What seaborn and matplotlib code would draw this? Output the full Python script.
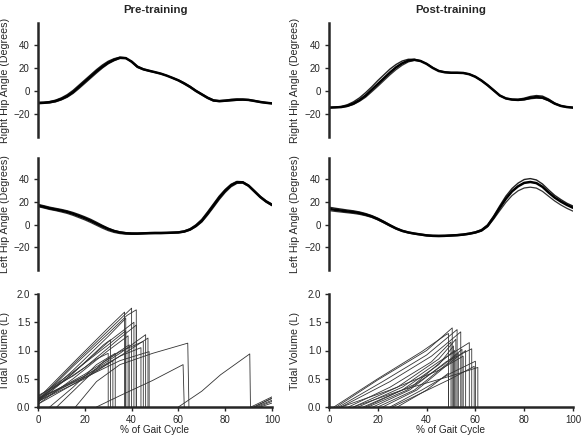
import numpy as np
import pandas as pd
import matplotlib
matplotlib.use("Agg")
import matplotlib.pyplot as plt
import seaborn as sns

# ---------------- data ----------------
gait_x = np.linspace(0, 100, 41)  # % of gait cycle, step 2.5

pre_right = [
    [-10.5,-10.3,-9.8,-8.8,-7,-4.5,-1,3.5,8,12.5,17,21,24.5,27,28.8,28.5,25.5,21,18.8,17.5,16.3,15,13.3,11.3,9.2,6.5,3.5,0,-3,-6,-8.3,-8.8,-8.5,-8,-7.6,-7.5,-7.8,-8.7,-9.6,-10.3,-10.8],
    [-10,-9.8,-9.2,-8,-6,-3.2,0.5,5,9.5,14,18.5,22.5,25.8,28,29.3,28.8,25,20.5,18.5,17.2,16,14.8,13.2,11.5,9.5,7,4,0.5,-2.5,-5.5,-7.8,-8.5,-8,-7.3,-7,-7.2,-7.5,-8.3,-9.3,-10,-10.5],
    [-11,-10.8,-10.4,-9.5,-7.8,-5.5,-2.2,2,6.5,11,15.5,19.8,23.5,26.2,28.2,28.2,25.8,21.5,19.2,17.8,16.5,15.2,13.5,11,8.8,6,3,-0.5,-3.5,-6.5,-8.8,-9.3,-9,-8.5,-8.2,-8,-8.2,-9,-10,-10.7,-11.2],
]
post_right = [
    [-14.5,-14.3,-14,-13,-11,-8,-4,1,6,11,16,20.5,24,26.3,27,26,23.5,20,17.3,16.2,15.8,15.8,15.6,14.5,12.3,9,5,0.5,-4,-6.5,-7.5,-7.8,-7.2,-6,-5.3,-5.8,-8,-11,-13,-14,-14.5],
    [-14.3,-14,-13.5,-12,-9.5,-6,-1.5,3.5,9,14,19,23,26,27.5,27.5,26.2,23.5,20,17.5,16.5,16,16,15.8,14.7,12.5,9.2,5.2,0.8,-3.8,-6.3,-7.2,-7.2,-6.3,-4.8,-4,-4.5,-7,-10.5,-12.8,-13.8,-14.3],
    [-14.5,-14.4,-14.2,-13.4,-11.8,-9,-5.5,-0.8,4,9,14,18.5,22.3,25.2,26.6,26,23.8,20.3,17.3,16,15.5,15.5,15.4,14.3,12,8.7,4.7,0.2,-4.2,-6.8,-7.8,-8.2,-7.8,-6.8,-6.3,-6.5,-8.5,-11.3,-13.3,-14.2,-14.7],
]
pre_left = [
    [17,15.8,14.5,13.5,12.5,11.3,9.7,7.8,5.8,3.5,1,-1.5,-3.8,-5.6,-6.8,-7.5,-7.8,-7.8,-7.6,-7.4,-7.3,-7.3,-7.2,-7,-6.8,-6,-4.2,-1,3.5,10,17,24,30,34.8,37.5,37.5,34.5,29.5,24.5,20.5,17.5],
    [18,16.8,15.5,14.5,13.5,12.3,10.8,9,7,4.8,2.2,-0.5,-3,-5,-6.3,-7,-7.3,-7.4,-7.2,-7,-6.9,-6.9,-6.8,-6.6,-6.3,-5.4,-3.5,0,4.8,11.5,18.5,25.5,31.2,35.8,38.3,38,35,30.2,25.2,21.2,18.3],
    [16,14.8,13.5,12.5,11.3,10,8.3,6.3,4.3,2,-0.5,-3,-5.2,-6.8,-7.8,-8.3,-8.5,-8.4,-8.1,-7.9,-7.8,-7.8,-7.6,-7.4,-7.2,-6.5,-4.8,-1.8,2.3,8.5,15.3,22.3,28.5,33.5,36.5,36.8,34,29,24,20,16.8],
]
post_left = [
    [14,13.2,12.5,11.8,11.2,10.3,9,7.3,5,2.3,-0.6,-3.3,-5.4,-6.8,-7.8,-8.6,-9.4,-9.8,-9.9,-9.8,-9.5,-9.2,-8.7,-7.9,-6.8,-5,-1,6.5,15,23,29.5,34,37,37.8,36.8,33.5,28.5,24,20.5,17.5,15],
    [15.5,14.6,13.8,13,12.3,11.3,9.9,8.1,5.8,3,0,-2.8,-5,-6.5,-7.5,-8.3,-9,-9.4,-9.5,-9.4,-9.1,-8.8,-8.3,-7.5,-6.3,-4.3,0,7.8,16.8,25.3,32,36.8,40,40.8,39.6,36,30.8,26,22.3,19,16.5],
    [12.5,11.8,11.2,10.6,10,9.2,8,6.5,4.3,1.6,-1.2,-3.8,-5.9,-7.3,-8.3,-9.1,-9.9,-10.3,-10.4,-10.3,-10,-9.7,-9.2,-8.4,-7.3,-5.6,-1.8,5,12.5,19.8,25.8,30,32.5,33.2,32.4,29.5,25.2,21,17.5,14.5,12],
]

# tidal volume breaths (x in % gait cycle, volume in L)
pre_tv_x = [
    [0, 15, 30, 37, 37], [0, 15, 30, 40, 40], [0, 15, 30, 38, 42, 42],
    [0, 15, 30, 37.5, 37.5], [0, 15, 30, 41, 41], [0, 20, 35, 42, 42],
    [0, 15, 30, 37.5, 37.5], [0, 15, 30, 38.5, 38.5], [0, 15, 28, 31, 31],
    [0, 20, 35, 46, 46], [0, 20, 35, 47, 47], [0, 20, 35, 45, 45],
    [0, 20, 35, 44, 44], [0, 20, 35, 47.5, 47.5], [0, 15, 28, 32, 32],
    [5, 15, 25, 33, 33], [8, 18, 28, 39, 39], [0, 15, 25, 30, 30],
    [16, 25, 35, 49, 64, 64.5], [25, 35, 49, 62, 62.5], [60, 70, 78, 90.5, 90.8],
    [91, 100], [92, 100], [93, 100], [94, 100], [95, 100], [92.5, 100],
]
pre_tv_v = [
    [0.15, 0.78, 1.4, 1.68, 0], [0.12, 0.75, 1.35, 1.75, 0], [0.10, 0.72, 1.3, 1.62, 1.72, 0],
    [0.10, 0.65, 1.25, 1.57, 0], [0.08, 0.6, 1.15, 1.5, 0], [0.15, 0.7, 1.22, 1.45, 0],
    [0.18, 0.62, 1.1, 1.35, 0], [0.05, 0.5, 1.0, 1.26, 0], [0.12, 0.6, 1.1, 1.19, 0],
    [0.15, 0.55, 0.95, 1.28, 0], [0.10, 0.5, 0.9, 1.22, 0], [0.12, 0.58, 0.98, 1.16, 0],
    [0.10, 0.55, 0.9, 1.05, 0], [0.15, 0.52, 0.82, 0.98, 0], [0.05, 0.4, 0.72, 0.82, 0],
    [0, 0.35, 0.75, 0.95, 0], [0, 0.4, 0.8, 1.1, 0], [0.2, 0.55, 0.85, 0.95, 0],
    [0, 0.45, 0.75, 0.95, 1.13, 0], [0, 0.2, 0.47, 0.75, 0], [0, 0.28, 0.57, 0.94, 0],
    [0, 0.18], [0, 0.15], [0, 0.12], [0, 0.10], [0, 0.07], [0, 0.16],
]
post_tv_x = [
    [2, 20, 38, 48, 49, 49], [3, 20, 40, 50.5, 50.5], [4, 22, 40, 52.5, 52.5],
    [5, 25, 42, 54, 54], [8, 25, 42, 50, 50], [10, 28, 45, 52, 52],
    [12, 30, 45, 57.5, 57.5], [14, 30, 45, 51, 51], [16, 32, 47, 54.5, 54.5],
    [18, 33, 48, 58.5, 58.5], [20, 35, 48, 53, 53], [22, 36, 50, 56, 56],
    [25, 38, 50, 60, 60], [26, 38, 50, 59.5, 59.5], [28, 40, 49, 49],
    [5, 25, 45, 55, 55], [10, 30, 50, 61, 61], [15, 35, 50, 51.5, 51.5],
]
post_tv_v = [
    [0, 0.5, 0.98, 1.28, 1.3, 0], [0, 0.48, 1.0, 1.4, 0], [0, 0.45, 0.92, 1.37, 0],
    [0, 0.45, 0.9, 1.33, 0], [0, 0.35, 0.8, 1.15, 0], [0, 0.35, 0.85, 1.2, 0],
    [0, 0.35, 0.8, 1.14, 0], [0, 0.3, 0.75, 1.08, 0], [0, 0.3, 0.75, 1.02, 0],
    [0, 0.3, 0.8, 1.03, 0], [0, 0.3, 0.75, 0.95, 0], [0, 0.3, 0.8, 1.0, 0],
    [0, 0.3, 0.6, 0.81, 0], [0, 0.25, 0.5, 0.72, 0], [0, 0.3, 0.6, 0],
    [0, 0.3, 0.65, 0.9, 0], [0, 0.3, 0.55, 0.7, 0], [0, 0.4, 0.95, 1.0, 0],
]

titles = ["Pre-training", "Post-training"]
hip_ticks = [-20, 0, 20, 40]
tv_ticks = [0.0, 0.5, 1.0, 1.5, 2.0]
x_ticks = [0, 20, 40, 60, 80, 100]

# ---------------- style ----------------
sns.set_theme(style="ticks")
plt.rcParams["font.family"] = ["Liberation Sans", "DejaVu Sans"]
plt.rcParams["axes.linewidth"] = 1.5

fig = plt.figure(figsize=(5.83, 4.41), dpi=100)
W, H = 583, 441
cols = [(38, 234), (329, 244)]
rows = [(23, 137), (158, 270), (294, 407)]
label_x = [-0.12, -0.119]
hip_styles = [("black", 1.8), ("#222222", 1.0), ("#333333", 0.9)]


def make_ax(c, r):
    l, w = cols[c]
    t, b = rows[r]
    return fig.add_axes([l / W, 1 - b / H, w / W, (b - t) / H])


def tv_df(xs, vs):
    recs = []
    for i, (tx, tv) in enumerate(zip(xs, vs)):
        for k, (xv, yv) in enumerate(zip(tx, tv)):
            recs.append((i, k, xv, yv))
    return pd.DataFrame(recs, columns=["trace", "k", "x", "y"])


hip_sets = [[pre_right, post_right], [pre_left, post_left]]
hip_labels = ["Right Hip Angle (Degrees)", "Left Hip Angle (Degrees)"]
tv_sets = [(pre_tv_x, pre_tv_v), (post_tv_x, post_tv_v)]

for c in range(2):
    for r in range(2):
        ax = make_ax(c, r)
        traces = hip_sets[r][c]
        for i in [1, 2, 0]:
            col, lw = hip_styles[i]
            sns.lineplot(x=gait_x, y=traces[i], color=col, lw=lw, ax=ax,
                         legend=False)
        ax.set_xlim(0, 100)
        ax.set_ylim(-40, 59)
        ax.set_yticks(hip_ticks)
        ax.set_xticks([])
        for s in ["top", "right", "bottom"]:
            ax.spines[s].set_visible(False)
        ax.spines["left"].set_linewidth(1.8)
        ax.tick_params(axis="y", labelsize=7, length=3, width=1, pad=3)
        ax.set_xlabel("")
        ax.set_ylabel(hip_labels[r], fontsize=7.7)
        ax.yaxis.set_label_coords(label_x[c], 0.5)
        if r == 0:
            ax.set_title(titles[c], fontweight="bold", fontsize=8.2, pad=7)

    ax = make_ax(c, 2)
    df = tv_df(*tv_sets[c])
    sns.lineplot(data=df, x="x", y="y", units="trace", estimator=None, sort=False,
                 color="#333333", lw=0.6, ax=ax, legend=False)
    ax.set_xlim(0, 100)
    ax.set_ylim(0, 2.0)
    ax.set_xticks(x_ticks)
    ax.set_yticks(tv_ticks)
    ax.set_yticklabels([f"{v:.1f}" for v in tv_ticks])
    for s in ["top", "right"]:
        ax.spines[s].set_visible(False)
    ax.spines["left"].set_linewidth(1.8)
    ax.spines["bottom"].set_linewidth(1.8)
    ax.tick_params(labelsize=7, length=3, width=1, pad=2.5)
    ax.set_xlabel("% of Gait Cycle", fontsize=7.2, labelpad=0)
    ax.set_ylabel("Tidal Volume (L)", fontsize=7.7)
    ax.yaxis.set_label_coords(label_x[c], 0.5)

fig.savefig("out.png", dpi=100)
